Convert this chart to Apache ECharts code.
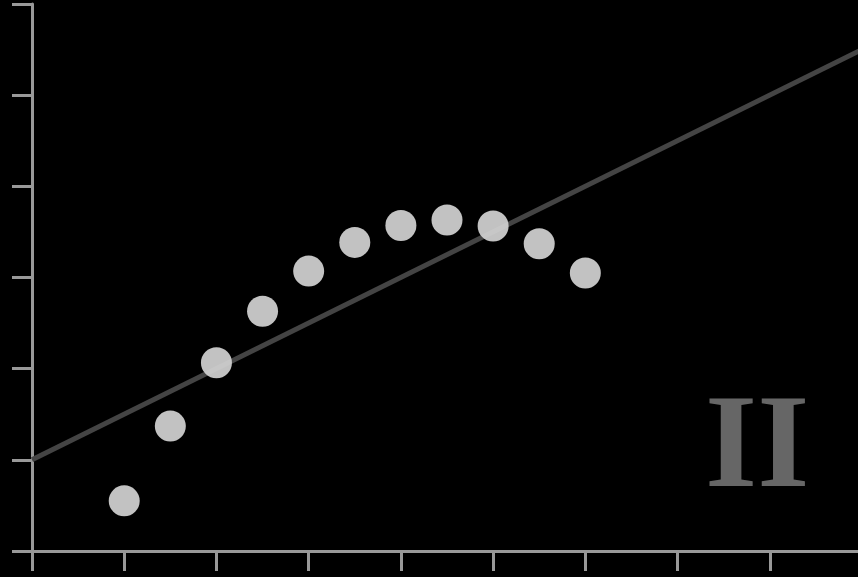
<!DOCTYPE html>
<html><head><meta charset="utf-8">
<script src="https://cdn.jsdelivr.net/npm/echarts@6/dist/echarts.min.js"></script>
<style>html,body{margin:0;padding:0;background:#000}#c{width:858px;height:577px}</style>
</head><body><div id="c"></div>
<script>
const xValues = [10, 8, 13, 9, 11, 14, 6, 4, 12, 7, 5];
const yValues = [9.14, 8.14, 8.74, 8.77, 9.26, 8.10, 6.13, 3.10, 9.13, 7.26, 4.74];
const fitLine = [[2, 4], [20, 13]];
const panelLabel = 'II';

const chart = echarts.init(document.getElementById('c'));
const axisStyle = {
  axisLine: { show: true, onZero: false, lineStyle: { color: '#999', width: 3 } },
  axisTick: { show: true, length: 20, lineStyle: { color: '#999', width: 3 } },
  axisLabel: { show: false },
  splitLine: { show: false }
};
chart.setOption({
  backgroundColor: '#000',
  animation: false,
  grid: { left: 32, right: -4, top: 4, bottom: 26, outerBoundsMode: 'none' },
  xAxis: Object.assign({ type: 'value', min: 2, max: 20, interval: 2 }, axisStyle),
  yAxis: Object.assign({ type: 'value', min: 2, max: 14, interval: 2 }, axisStyle),
  graphic: [{
    type: 'text', x: 705, y: 451,
    style: { text: panelLabel, fill: '#666', verticalAlign: 'middle', align: 'left',
      font: 'bold 134px "Liberation Serif", "DejaVu Serif", serif' }
  }],
  series: [
    { type: 'line', data: fitLine, symbol: 'none', lineStyle: { color: '#444', width: 5 }, z: 2 },
    { type: 'scatter', data: xValues.map((x, i) => [x, yValues[i]]), symbolSize: 31,
      itemStyle: { color: '#d2d2d2', opacity: 0.92 }, z: 3 }
  ]
});
</script></body></html>
